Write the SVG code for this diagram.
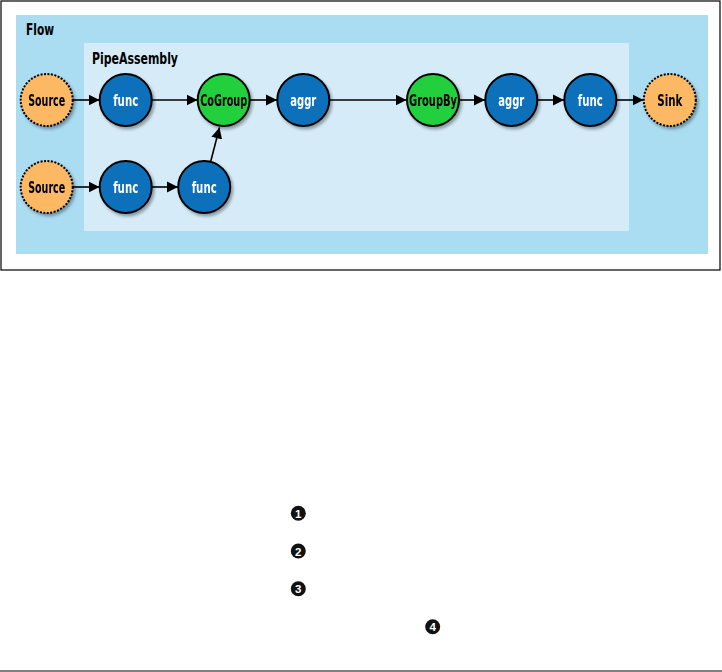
<svg xmlns="http://www.w3.org/2000/svg" width="722" height="672" viewBox="0 0 722 672">
<style>
.lbl{font-family:"DejaVu Sans Condensed","Liberation Sans",sans-serif;font-weight:bold;font-size:16px;text-anchor:middle;dominant-baseline:central}
.title{font-family:"DejaVu Sans Condensed","Liberation Sans",sans-serif;font-weight:bold;font-size:16.5px}
.w{fill:#ffffff}
.k{fill:#000000}
.blue{fill:#0a6fba;stroke:#000;stroke-width:2}
.green{fill:#22cf3e;stroke:#000;stroke-width:2}
.orange{fill:#fdb864;stroke:#000;stroke-width:2;stroke-dasharray:2 1.5}
.edge{stroke:#000;stroke-width:1.6;fill:none;marker-end:url(#ah)}
.num{font-family:"Liberation Sans","DejaVu Sans",sans-serif;font-weight:bold;font-size:11.5px;fill:#fff;text-anchor:middle;dominant-baseline:central}
</style>
<defs>
<marker id="ah" markerUnits="userSpaceOnUse" markerWidth="12" markerHeight="12" refX="11" refY="6" orient="auto">
<path d="M0,0.5 L11,6 L0,11.5 Z" fill="#000"/>
</marker>
<filter id="sh" x="-30%" y="-30%" width="160%" height="160%">
<feDropShadow dx="2" dy="2.5" stdDeviation="1.5" flood-color="#000" flood-opacity="0.35"/>
</filter>
</defs>
<rect x="0" y="0" width="722" height="672" fill="#fff"/>
<rect x="1" y="1" width="719" height="269" fill="none" stroke="#000" stroke-width="1.2"/>
<g id="flow">
<rect x="16" y="15" width="692" height="239" fill="#aadcf2"/>
<text class="title" x="26" y="35" textLength="28" lengthAdjust="spacingAndGlyphs">Flow</text>
</g>
<g id="pipeassembly">
<rect x="84" y="43" width="545" height="188" fill="#d5ecf8"/>
<text class="title" x="92" y="64" textLength="86" lengthAdjust="spacingAndGlyphs">PipeAssembly</text>
</g>
<g id="connectors">
<line class="edge" x1="73" y1="100" x2="99.5" y2="100"/>
<line class="edge" x1="152" y1="100" x2="197.5" y2="100"/>
<line class="edge" x1="250" y1="100" x2="277" y2="100"/>
<line class="edge" x1="330" y1="100" x2="406.5" y2="100"/>
<line class="edge" x1="460" y1="100" x2="485" y2="100"/>
<line class="edge" x1="538" y1="100" x2="564" y2="100"/>
<line class="edge" x1="617" y1="100" x2="643.5" y2="100"/>
<line class="edge" x1="73" y1="187" x2="99.5" y2="187"/>
<line class="edge" x1="152" y1="187" x2="178" y2="187"/>
<line class="edge" x1="210.7" y1="161.5" x2="219.5" y2="127.5"/>
</g>
<g id="source1" filter="url(#sh)"><circle class="orange" cx="46.7" cy="100" r="26"/><text class="lbl k" x="46.7" y="100" textLength="37" lengthAdjust="spacingAndGlyphs">Source</text></g>
<g id="func1" filter="url(#sh)"><circle class="blue" cx="125.7" cy="100" r="26"/><text class="lbl w" x="125.7" y="100" textLength="25" lengthAdjust="spacingAndGlyphs">func</text></g>
<g id="cogroup" filter="url(#sh)"><circle class="green" cx="223.7" cy="100" r="26"/><text class="lbl k" x="223.7" y="100" textLength="47" lengthAdjust="spacingAndGlyphs">CoGroup</text></g>
<g id="aggr1" filter="url(#sh)"><circle class="blue" cx="303.3" cy="100" r="26"/><text class="lbl w" x="303.3" y="100" textLength="26" lengthAdjust="spacingAndGlyphs">aggr</text></g>
<g id="groupby" filter="url(#sh)"><circle class="green" cx="433" cy="100" r="26"/><text class="lbl k" x="433" y="100" textLength="48" lengthAdjust="spacingAndGlyphs">GroupBy</text></g>
<g id="aggr2" filter="url(#sh)"><circle class="blue" cx="511.3" cy="100" r="26"/><text class="lbl w" x="511.3" y="100" textLength="26" lengthAdjust="spacingAndGlyphs">aggr</text></g>
<g id="func4" filter="url(#sh)"><circle class="blue" cx="590.3" cy="100" r="26"/><text class="lbl w" x="590.3" y="100" textLength="25" lengthAdjust="spacingAndGlyphs">func</text></g>
<g id="sink" filter="url(#sh)"><circle class="orange" cx="669.8" cy="100" r="26"/><text class="lbl k" x="669.8" y="100" textLength="25" lengthAdjust="spacingAndGlyphs">Sink</text></g>
<g id="source2" filter="url(#sh)"><circle class="orange" cx="46.7" cy="187" r="26"/><text class="lbl k" x="46.7" y="187" textLength="37" lengthAdjust="spacingAndGlyphs">Source</text></g>
<g id="func2" filter="url(#sh)"><circle class="blue" cx="125.7" cy="187" r="26"/><text class="lbl w" x="125.7" y="187" textLength="25" lengthAdjust="spacingAndGlyphs">func</text></g>
<g id="func3" filter="url(#sh)"><circle class="blue" cx="204.2" cy="187" r="26"/><text class="lbl w" x="204.2" y="187" textLength="25" lengthAdjust="spacingAndGlyphs">func</text></g>
<g id="callout1"><circle cx="298.3" cy="513.3" r="7.5" fill="#111"/><text class="num" x="298.3" y="513.8">1</text></g>
<g id="callout2"><circle cx="298.3" cy="551" r="7.5" fill="#111"/><text class="num" x="298.3" y="551.5">2</text></g>
<g id="callout3"><circle cx="298.3" cy="588.7" r="7.5" fill="#111"/><text class="num" x="298.3" y="589.2">3</text></g>
<g id="callout4"><circle cx="432.7" cy="626.7" r="7.5" fill="#111"/><text class="num" x="432.7" y="627.2">4</text></g>
<line x1="0" y1="671" x2="722" y2="671" stroke="#000" stroke-width="1.2"/>
</svg>
